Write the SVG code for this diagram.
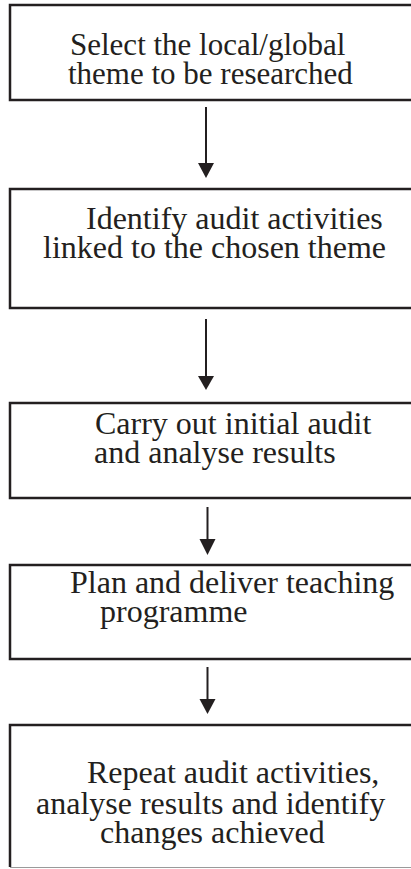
<svg xmlns="http://www.w3.org/2000/svg" width="411" height="869" viewBox="0 0 411 869">
<defs>
<style>
.box{fill:#fff;stroke:#231f20;stroke-width:2.5}
.t{font-family:"Liberation Serif","Times New Roman",serif;font-size:32px;fill:#231f20}
.t1{font-size:31px}
.c{stroke:#231f20;stroke-width:2;fill:none}
.h{fill:#231f20}
</style>
</defs>
<rect width="411" height="869" fill="#fff"/>
<g id="node1">
<rect class="box" x="10" y="5" width="410" height="95"/>
<text class="t t1" x="70" y="55">Select the local/global</text>
<text class="t t1" x="68" y="84">theme to be researched</text>
</g>
<g id="node2">
<rect class="box" x="10" y="189" width="410" height="119"/>
<text class="t" x="86" y="229">Identify audit activities</text>
<text class="t" x="43" y="258">linked to the chosen theme</text>
</g>
<g id="node3">
<rect class="box" x="10" y="403" width="410" height="95"/>
<text class="t" x="95" y="434">Carry out initial audit</text>
<text class="t" x="94" y="463">and analyse results</text>
</g>
<g id="node4">
<rect class="box" x="10" y="565" width="410" height="94"/>
<text class="t" x="70" y="593">Plan and deliver teaching</text>
<text class="t" x="100" y="622">programme</text>
</g>
<g id="node5">
<path d="M420,725 L10,725 L10,867" class="box" fill="none"/>
<line x1="10" y1="867.5" x2="411" y2="867.5" stroke="#9a9a9a" stroke-width="1.2"/>
<text class="t" x="87" y="783">Repeat audit activities,</text>
<text class="t" x="36" y="814">analyse results and identify</text>
<text class="t" x="100" y="843">changes achieved</text>
</g>
<g id="connectors">
<line class="c" x1="206" y1="107" x2="206" y2="164"/>
<path class="h" d="M198,163 L214,163 L206,178 Z"/>
<line class="c" x1="206" y1="319" x2="206" y2="377"/>
<path class="h" d="M198,376 L214,376 L206,390 Z"/>
<line class="c" x1="207.5" y1="507" x2="207.5" y2="540"/>
<path class="h" d="M199.5,539 L215.5,539 L207.5,555 Z"/>
<line class="c" x1="207.5" y1="667" x2="207.5" y2="700"/>
<path class="h" d="M199.5,699 L215.5,699 L207.5,714 Z"/>
</g>
</svg>
